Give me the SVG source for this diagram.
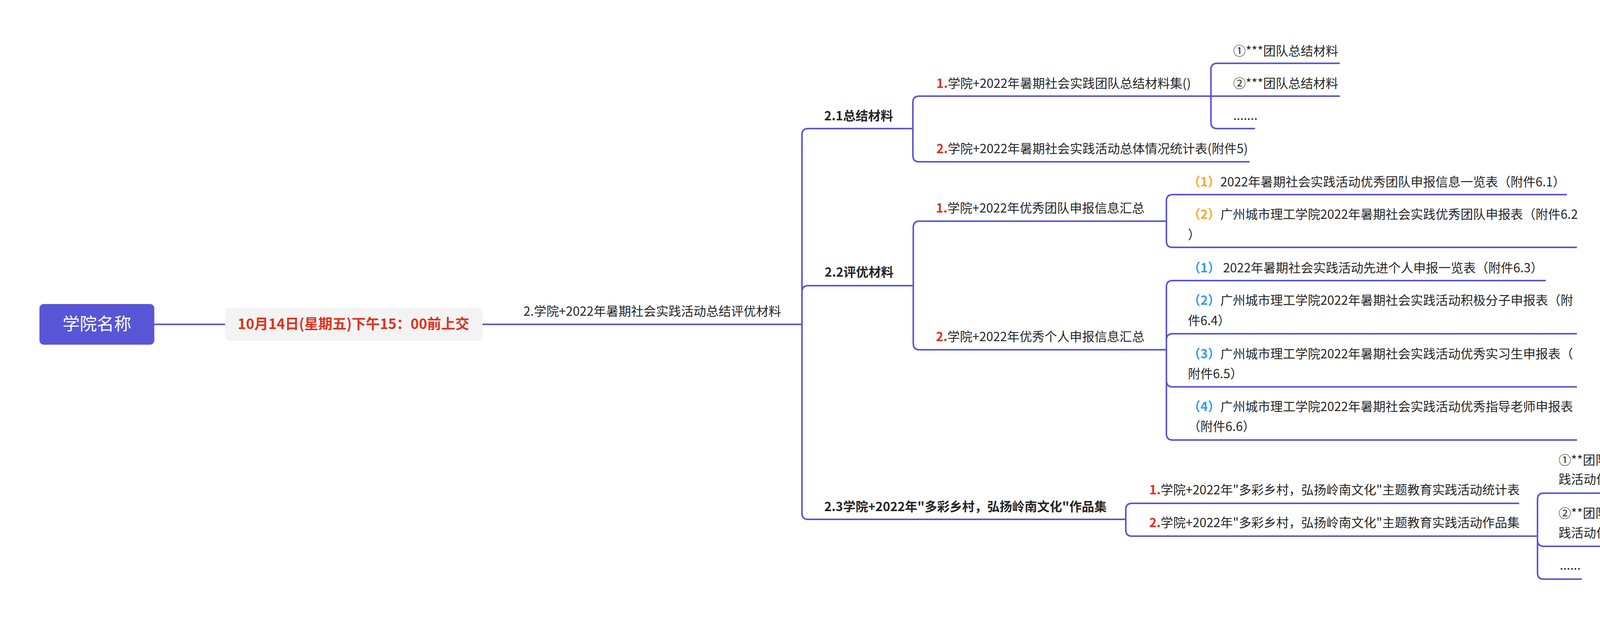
<svg xmlns="http://www.w3.org/2000/svg" width="5075" height="1584" viewBox="0 0 5075 1584">
<defs>
<style>
.t{font-family:"Noto Sans CJK SC","Liberation Sans",sans-serif;font-size:32px;fill:#262626;}
.b{font-weight:bold;}
.r{fill:#E0301E;font-weight:bold;}
.o{fill:#FFA42B;font-weight:bold;}
.u{fill:#2E9CF2;font-weight:bold;}
.c{fill:none;stroke:#5A56D6;stroke-width:4;stroke-linecap:butt;}
</style>
</defs>
<rect width="5075" height="1584" fill="#ffffff"/>
<g id="connectors">
<path class="c" d="M395,830 H576"/>
<path class="c" d="M1235,830 H2053"/>
<path class="c" d="M2053,830 V345 Q2053,329 2069,329 H2337"/>
<path class="c" d="M2053,830 V747 Q2053,731 2069,731 H2338"/>
<path class="c" d="M2053,830 V1313 Q2053,1329 2069,1329 H2882"/>
<path class="c" d="M2337,329 V262 Q2337,246 2353,246 H3100"/>
<path class="c" d="M2337,329 V398 Q2337,414 2353,414 H3199"/>
<path class="c" d="M3100,246 V178 Q3100,162 3116,162 H3430"/>
<path class="c" d="M3100,246 H3430"/>
<path class="c" d="M3100,246 V313 Q3100,329 3116,329 H3213"/>
<path class="c" d="M2338,731 V582 Q2338,566 2354,566 H2986"/>
<path class="c" d="M2338,731 V879 Q2338,895 2354,895 H2986"/>
<path class="c" d="M2986,566 V514 Q2986,498 3002,498 H4011"/>
<path class="c" d="M2986,566 V617 Q2986,633 3002,633 H4037"/>
<path class="c" d="M2986,895 V734 Q2986,718 3002,718 H3957"/>
<path class="c" d="M2986,895 V870 Q2986,854 3002,854 H4037"/>
<path class="c" d="M2986,895 V974 Q2986,990 3002,990 H4037"/>
<path class="c" d="M2986,895 V1110 Q2986,1126 3002,1126 H4037"/>
<path class="c" d="M2882,1329 V1304 Q2882,1288 2898,1288 H3889"/>
<path class="c" d="M2882,1329 V1356 Q2882,1372 2898,1372 H3936"/>
<path class="c" d="M3936,1372 V1278 Q3936,1262 3952,1262 H4975"/>
<path class="c" d="M3936,1372 V1382 Q3936,1398 3952,1398 H4975"/>
<path class="c" d="M3936,1372 V1466 Q3936,1482 3952,1482 H4049"/>
</g>
<g id="root">
<rect x="101" y="778" width="294" height="104" rx="11" fill="#5856D6"/>
<text class="t" x="248" y="845" text-anchor="middle" style="font-size:44px;fill:#ffffff">学院名称</text>
</g>
<g id="deadline">
<rect x="576" y="788" width="659" height="84" rx="11" fill="#F3F3F3"/>
<text class="t b" x="905" y="842" text-anchor="middle" style="font-size:36px;fill:#E0301E">10月14日(星期五)下午15：00前上交</text>
</g>
<g id="main">
<text class="t" x="1340" y="808">2.学院+2022年暑期社会实践活动总结评优材料</text>
</g>
<g id="n21">
<text class="t b" x="2110" y="308">2.1总结材料</text>
</g>
<g id="n21-1">
<text class="t" x="2397" y="225"><tspan class="r">1.</tspan>学院+2022年暑期社会实践团队总结材料集()</text>
</g>
<g id="n21-1a">
<text class="t" x="3157" y="142">①***团队总结材料</text>
</g>
<g id="n21-1b">
<text class="t" x="3157" y="225">②***团队总结材料</text>
</g>
<g id="n21-1c">
<text class="t" x="3157" y="307">.......</text>
</g>
<g id="n21-2">
<text class="t" x="2397" y="392"><tspan class="r">2.</tspan>学院+2022年暑期社会实践活动总体情况统计表(附件5)</text>
</g>
<g id="n22">
<text class="t b" x="2111" y="708">2.2评优材料</text>
</g>
<g id="n22-1">
<text class="t" x="2396" y="544"><tspan class="r">1.</tspan>学院+2022年优秀团队申报信息汇总</text>
</g>
<g id="n22-1a">
<text class="t" x="3041" y="477"><tspan class="o">（1）</tspan>2022年暑期社会实践活动优秀团队申报信息一览表（附件6.1）</text>
</g>
<g id="n22-1b">
<text class="t" x="3041" y="560"><tspan class="o">（2）</tspan>广州城市理工学院2022年暑期社会实践优秀团队申报表（附件6.2</text>
<text class="t" x="3041" y="612">）</text>
</g>
<g id="n22-2">
<text class="t" x="2396" y="873"><tspan class="r">2.</tspan>学院+2022年优秀个人申报信息汇总</text>
</g>
<g id="n22-2a">
<text class="t" x="3041" y="697"><tspan class="u">（1）</tspan>&#160;2022年暑期社会实践活动先进个人申报一览表（附件6.3）</text>
</g>
<g id="n22-2b">
<text class="t" x="3041" y="780"><tspan class="u">（2）</tspan>广州城市理工学院2022年暑期社会实践活动积极分子申报表（附</text>
<text class="t" x="3041" y="832">件6.4）</text>
</g>
<g id="n22-2c">
<text class="t" x="3041" y="917"><tspan class="u">（3）</tspan>广州城市理工学院2022年暑期社会实践活动优秀实习生申报表（</text>
<text class="t" x="3041" y="968">附件6.5）</text>
</g>
<g id="n22-2d">
<text class="t" x="3041" y="1052"><tspan class="u">（4）</tspan>广州城市理工学院2022年暑期社会实践活动优秀指导老师申报表</text>
<text class="t" x="3041" y="1103">（附件6.6）</text>
</g>
<g id="n23">
<text class="t b" x="2110" y="1308">2.3学院+2022年"多彩乡村，弘扬岭南文化"作品集</text>
</g>
<g id="n23-1">
<text class="t" x="2942" y="1265"><tspan class="r">1.</tspan>学院+2022年"多彩乡村，弘扬岭南文化"主题教育实践活动统计表</text>
</g>
<g id="n23-2">
<text class="t" x="2942" y="1349"><tspan class="r">2.</tspan>学院+2022年"多彩乡村，弘扬岭南文化"主题教育实践活动作品集</text>
</g>
<g id="n23-2a">
<text class="t" x="3990" y="1189">①**团队/个人 作品+《2022年"多彩乡村，弘扬岭南文化 "主题教育实</text>
<text class="t" x="3990" y="1238">践活动作品信息表》</text>
</g>
<g id="n23-2b">
<text class="t" x="3990" y="1325">②**团队/个人 作品+《2022年"多彩乡村，弘扬岭南文化 "主题教育实</text>
<text class="t" x="3990" y="1375">践活动作品信息表》</text>
</g>
<g id="n23-2c">
<text class="t" x="3993" y="1458">......</text>
</g>
</svg>
